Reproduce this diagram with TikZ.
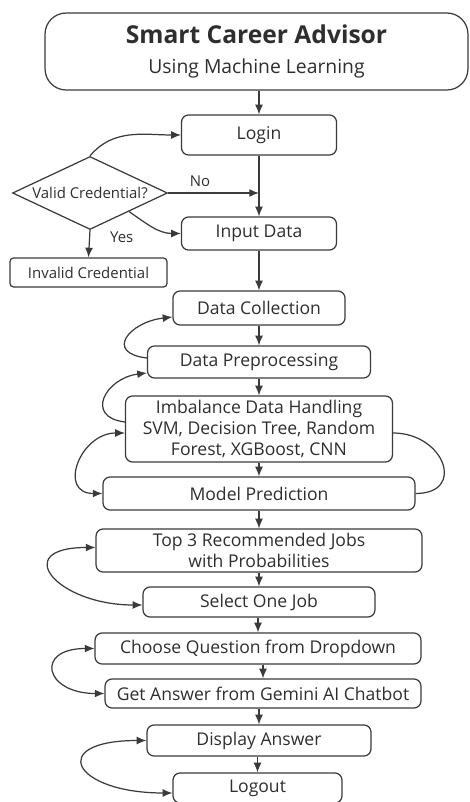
\documentclass[tikz,border=0pt]{standalone}
\usepackage{fontspec}
\setmainfont{Open Sans}
\usetikzlibrary{shapes.geometric,arrows.meta}
\definecolor{edge}{HTML}{3A3A3A}
\definecolor{ink}{HTML}{2E2E2E}
\begin{document}
\begin{tikzpicture}[x=0.02cm,y=0.02cm,
  box/.style={draw=edge, line width=0.7pt, rounded corners=4pt, align=center, text=ink, inner sep=1pt, font=\fontsize{10}{12}\selectfont},
  arr/.style={-{Latex[length=5.5pt,width=4.5pt]}, draw=edge, line width=0.7pt},
  both/.style={{Latex[length=5.5pt,width=4.5pt]}-{Latex[length=5.5pt,width=4.5pt]}, draw=edge, line width=0.7pt},
  small/.style={font=\fontsize{8.5}{10}\selectfont, text=ink}]
\useasboundingbox (0,0) rectangle (470,802);
% boxes
\node (title) [box, rounded corners=12pt, minimum width=8.46cm, minimum height=1.54cm] at (256.5,750.5)
  {{\fontsize{14}{17}\bfseries Smart Career Advisor}\\[5pt]{\fontsize{11}{13}\selectfont Using Machine Learning}};
\node (login) [box, minimum width=3.1cm, minimum height=0.8cm] at (259,667) {Login};
\node (valid) [draw=edge, line width=0.7pt, diamond, aspect=2.12, small, inner sep=0pt, minimum width=3.1cm, minimum height=1.46cm] at (90,609) {Valid Credential?};
\node (input) [box, minimum width=3.1cm, minimum height=0.66cm] at (259,568.5) {Input Data};
\node (invalid) [box, small, rounded corners=2pt, minimum width=3.14cm, minimum height=0.58cm] at (88.5,529.5) {Invalid Credential};
\node (collect) [box, minimum width=3.44cm, minimum height=0.68cm] at (259,494) {Data Collection};
\node (preproc) [box, minimum width=4.46cm, minimum height=0.64cm] at (259,440) {Data Preprocessing};
\node (imbal) [box, minimum width=5.34cm, minimum height=1.32cm] at (259,373)
  {Imbalance Data Handling\\SVM, Decision Tree, Random\\Forest, XGBoost, CNN};
\node (model) [box, minimum width=6.24cm, minimum height=0.66cm] at (259,308.5) {Model Prediction};
\node (top3) [box, minimum width=6.52cm, minimum height=0.86cm] at (259,251.5) {Top 3 Recommended Jobs\\with Probabilities};
\node (select) [box, minimum width=4.64cm, minimum height=0.6cm] at (259,200) {Select One Job};
\node (choose) [box, minimum width=6.52cm, minimum height=0.62cm] at (258,153.5) {Choose Question from Dropdown};
\node (answer) [box, minimum width=6.32cm, minimum height=0.58cm] at (263,108.5) {Get Answer from Gemini AI Chatbot};
\node (display) [box, minimum width=4.48cm, minimum height=0.62cm] at (259,61.5) {Display Answer};
\node (logout) [box, minimum width=3.38cm, minimum height=0.6cm] at (257.5,14) {Logout};
% main flow
\foreach \a/\b in {title/login, login/input, input/collect, collect/preproc, preproc/imbal, imbal/model,
  model/top3, top3/select, select/choose, choose/answer, answer/display, display/logout}
  \draw[arr] (\b.north |- \a.south) -- (\b.north);
% credential check
\coordinate (nojoin) at (login.south |- valid.east);
\draw[arr] (valid.north) to[out=50, in=180] (login.west);
\draw[arr] (valid.east) -- (nojoin) node[small, pos=0.35, above] {No};
\draw[arr] (valid.south east) to[out=-35, in=180] (input.west);
\draw[arr] (valid.south) -- (invalid.north) node[small, pos=0.25, right=8pt] {Yes};
% loops
\draw[arr] ([yshift=0.08cm]preproc.west) .. controls +(-43,5) and +(-43,-5) .. ([yshift=-0.18cm]collect.west);
\draw[arr] ([yshift=0.14cm]imbal.west) .. controls +(-41,5) and +(-41,-5) .. ([yshift=-0.22cm]preproc.west);
\draw[both] ([yshift=-0.08cm]imbal.west) .. controls +(-45,0) and +(-45,0) .. (model.west);
\draw[draw=edge, line width=0.7pt] ([yshift=-0.08cm]imbal.east) .. controls +(51,0) and +(51,0) .. (model.east);
\draw[both] ([yshift=0.06cm]top3.west) .. controls +(-86,0) and +(-86,0) .. ([yshift=-0.06cm]select.west);
\draw[both] (choose.west) .. controls +(-60,0) and +(-60,0) .. (answer.west);
\draw[both] (display.west) .. controls +(-100,0) and +(-100,0) .. ([yshift=-0.1cm]logout.west);
\end{tikzpicture}
\end{document}
